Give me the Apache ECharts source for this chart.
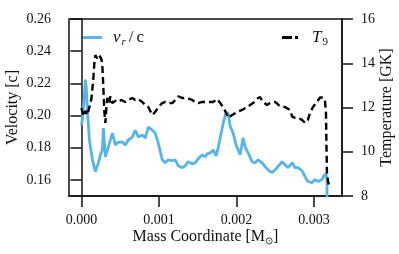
<!DOCTYPE html>
<html><head><meta charset="utf-8">
<script src="https://cdn.jsdelivr.net/npm/echarts@6/dist/echarts.min.js"></script>
<style>html,body{margin:0;padding:0;background:#fff}#c{width:399px;height:254px}</style>
</head><body><div id="c"></div>
<script>
const massV = [
  0, 0.000013, 0.000039, 0.000051, 0.000064, 0.000077, 0.000103, 0.000142, 0.00018, 0.000219,
  0.000245, 0.00027, 0.000283, 0.000309, 0.000347, 0.000399, 0.000438, 0.000476, 0.000528, 0.000566,
  0.000605, 0.000656, 0.000695, 0.000734, 0.000785, 0.000824, 0.000862, 0.000914, 0.000952, 0.000991,
  0.001042, 0.001081, 0.00112, 0.001171, 0.00121, 0.001248, 0.0013, 0.001338, 0.001377, 0.001429,
  0.001467, 0.001506, 0.001557, 0.001596, 0.001622, 0.00166, 0.001699, 0.001737, 0.001763, 0.001789,
  0.001828, 0.001866, 0.001892, 0.001918, 0.001956, 0.001995, 0.002046, 0.002085, 0.002111, 0.002149,
  0.002201, 0.00224, 0.002278, 0.00233, 0.002368, 0.002407, 0.002458, 0.002523, 0.002587, 0.002625,
  0.002664, 0.002716, 0.002754, 0.002793, 0.002844, 0.002883, 0.002921, 0.002973, 0.003012, 0.00305,
  0.003102, 0.003127, 0.003153, 0.003166, 0.003168
];
const velocity = [
  0.194, 0.198, 0.2125, 0.2223, 0.2168, 0.2032, 0.1848, 0.1725, 0.1651, 0.1706,
  0.1756, 0.1786, 0.1922, 0.1743, 0.1805, 0.1891, 0.1817, 0.1835, 0.1835, 0.1817,
  0.1848, 0.1866, 0.1909, 0.1866, 0.1879, 0.1860, 0.1928, 0.1909, 0.1891, 0.1829,
  0.1725, 0.1706, 0.1725, 0.1719, 0.1725, 0.1688, 0.1676, 0.1688, 0.1713, 0.1700,
  0.1706, 0.1731, 0.1756, 0.1743, 0.1762, 0.1768, 0.1786, 0.1749, 0.1799, 0.1860,
  0.1952, 0.2020, 0.2014, 0.1934, 0.1891, 0.1817, 0.1756, 0.1860, 0.1805, 0.1768,
  0.1713, 0.1706, 0.1725, 0.1706, 0.1682, 0.1663, 0.1645, 0.1676, 0.1713, 0.1694,
  0.1676, 0.1706, 0.1676, 0.1676, 0.1657, 0.1620, 0.1590, 0.1583, 0.1602, 0.1590,
  0.1602, 0.1626, 0.1639, 0.1602, 0.145
];
const massT = [
  0, 0.000026, 0.000051, 0.000077, 0.000103, 0.000129, 0.000154, 0.000167, 0.00018, 0.000206,
  0.000232, 0.000257, 0.00027, 0.000283, 0.000296, 0.000309, 0.000322, 0.000335, 0.00036, 0.000373,
  0.000399, 0.000438, 0.000476, 0.000515, 0.000566, 0.000605, 0.000656, 0.000695, 0.000734, 0.000785,
  0.000824, 0.000862, 0.000914, 0.000952, 0.000991, 0.001042, 0.001081, 0.00112, 0.001171, 0.00121,
  0.001248, 0.0013, 0.001338, 0.001377, 0.001429, 0.001467, 0.001506, 0.001557, 0.001622, 0.001699,
  0.00175, 0.001789, 0.001828, 0.001879, 0.001892, 0.001943, 0.002008, 0.002072, 0.002136, 0.002175,
  0.002214, 0.002278, 0.002304, 0.002342, 0.002394, 0.002432, 0.002497, 0.002561, 0.002625, 0.00269,
  0.002716, 0.002754, 0.002793, 0.002844, 0.002883, 0.002921, 0.002947, 0.002986, 0.003037, 0.003076,
  0.003115, 0.00314, 0.003153, 0.00316, 0.003166, 0.003179, 0.003192
];
const temperature = [
  11.98, 11.6, 11.85, 11.66, 12.02, 12.4, 13.3, 14.0, 14.37, 14.2,
  14.35, 14.2, 13.9, 12.9, 11.8, 11.3, 12.0, 12.43, 12.2, 12.5,
  12.2, 12.3, 12.25, 12.34, 12.25, 12.34, 12.43, 12.34, 12.38, 12.25,
  12.11, 12.02, 11.66, 11.8, 12.02, 12.2, 12.25, 12.2, 12.2, 12.34,
  12.5, 12.43, 12.43, 12.4, 12.34, 12.25, 12.2, 12.25, 12.25, 12.25,
  12.38, 12.2, 12.02, 11.66, 11.53, 11.66, 11.8, 11.89, 12.02, 12.11,
  12.2, 12.43, 12.47, 12.25, 12.11, 12.2, 12.25, 12.05, 12.02, 11.89,
  11.6, 11.53, 11.53, 11.44, 11.3, 11.44, 11.75, 12.02, 12.25, 12.45,
  12.45, 12.3, 11.8, 10.2, 9.04, 8.7, 8.45
];
const xTicks = [0, 0.001, 0.002, 0.003];
const vTicks = [0.16, 0.18, 0.20, 0.22, 0.24, 0.26];
const tTicks = [8, 10, 12, 14, 16];

const FONT = '"Liberation Serif", "Times New Roman", serif';
const INK = '#111';
const blueData = massV.map((m, i) => [m, velocity[i]]);
const tData = massT.map((m, i) => [m, temperature[i]]);

const tickStyle = { show: true, inside: false, length: 11, lineStyle: { color: INK, width: 1.5 } };
const chart = echarts.init(document.getElementById('c'), null, { renderer: 'canvas' });
chart.setOption({
  animation: false,
  backgroundColor: '#fff',
  grid: { left: 69, right: 57, top: 19, bottom: 58, containLabel: false, outerBoundsMode: 'none',
          show: true, borderColor: INK, borderWidth: 1.5, backgroundColor: 'transparent' },
  legend: [
    {
      data: [{ name: 'vr', icon: 'rect' }], left: 83, top: 29, padding: 0, itemWidth: 19, itemHeight: 3,
      formatter: () => '{a|v}{s|r}{b|/}{c|c}',
      textStyle: { fontFamily: FONT, color: INK, rich: {
        a: { fontFamily: FONT, fontSize: 17, fontStyle: 'italic', lineHeight: 20, padding: [0, 1, 0, 6] },
        s: { fontFamily: FONT, fontSize: 11, fontStyle: 'italic', lineHeight: 11, verticalAlign: 'bottom', padding: [0, 3, 0, 0] },
        b: { fontFamily: FONT, fontSize: 17, lineHeight: 20, padding: [0, 3, 0, 0] },
        c: { fontFamily: FONT, fontSize: 17, lineHeight: 20 }
      } }
    },
    {
      data: [{ name: 'T9', icon: 'path://M0,0H10V3H0Z M13,0H16V3H13Z' }], left: 282, top: 29, padding: 0, itemWidth: 16, itemHeight: 3,
      formatter: () => '{a|T}{s|9}',
      textStyle: { fontFamily: FONT, color: INK, rich: {
        a: { fontFamily: FONT, fontSize: 17, fontStyle: 'italic', lineHeight: 20, padding: [0, 1, 0, 9] },
        s: { fontFamily: FONT, fontSize: 11, lineHeight: 11, verticalAlign: 'bottom' }
      } }
    }
  ],
  xAxis: {
    type: 'value', min: -0.00016, max: 0.00336,
    name: 'Mass Coordinate [M{sub|⊙}]', nameLocation: 'middle', nameGap: 32, nameMoveOverlap: false,
    nameTextStyle: { fontFamily: FONT, fontSize: 16, color: INK, lineHeight: 18,
      rich: { sub: { fontFamily: FONT, fontSize: 10, lineHeight: 10, verticalAlign: 'bottom' } } },
    axisLine: { show: true, lineStyle: { color: INK, width: 1.5 } },
    axisTick: Object.assign({ customValues: xTicks }, tickStyle),
    axisLabel: { customValues: xTicks, margin: 17, fontFamily: FONT, fontSize: 14, color: INK, formatter: v => v.toFixed(3) },
    splitLine: { show: false }
  },
  yAxis: [
    {
      type: 'value', position: 'left', min: 0.15, max: 0.26,
      name: 'Velocity [c]', nameLocation: 'middle', nameGap: 48, nameRotate: 90, nameMoveOverlap: false,
      nameTextStyle: { fontFamily: FONT, fontSize: 16, color: INK },
      axisLine: { show: true, lineStyle: { color: INK, width: 1.5 } },
      axisTick: Object.assign({ customValues: vTicks }, tickStyle),
      axisLabel: { customValues: vTicks, margin: 18, fontFamily: FONT, fontSize: 14, color: INK, formatter: v => v.toFixed(2) },
      splitLine: { show: false }
    },
    {
      type: 'value', position: 'right', min: 8, max: 16, interval: 2,
      name: 'Temperature [GK]', nameLocation: 'middle', nameGap: 37, nameRotate: 90, nameMoveOverlap: false,
      nameTextStyle: { fontFamily: FONT, fontSize: 16, color: INK },
      axisLine: { show: true, lineStyle: { color: INK, width: 1.5 } },
      axisTick: tickStyle,
      axisLabel: { margin: 19, fontFamily: FONT, fontSize: 14, color: INK, formatter: v => String(Math.round(v)) },
      splitLine: { show: false }
    }
  ],
  series: [
    {
      name: 'vr', type: 'line', yAxisIndex: 0, data: blueData, symbol: 'none', showSymbol: false,
      lineStyle: { color: '#56B4E9', width: 2.8 }, itemStyle: { color: '#56B4E9' }, clip: true, z: 2
    },
    {
      name: 'T9', type: 'line', yAxisIndex: 1, data: tData, symbol: 'none', showSymbol: false,
      lineStyle: { color: '#000', width: 2.4, type: [7, 4] }, itemStyle: { color: '#000' }, clip: true, z: 3
    }
  ]
});
</script>
</body></html>
